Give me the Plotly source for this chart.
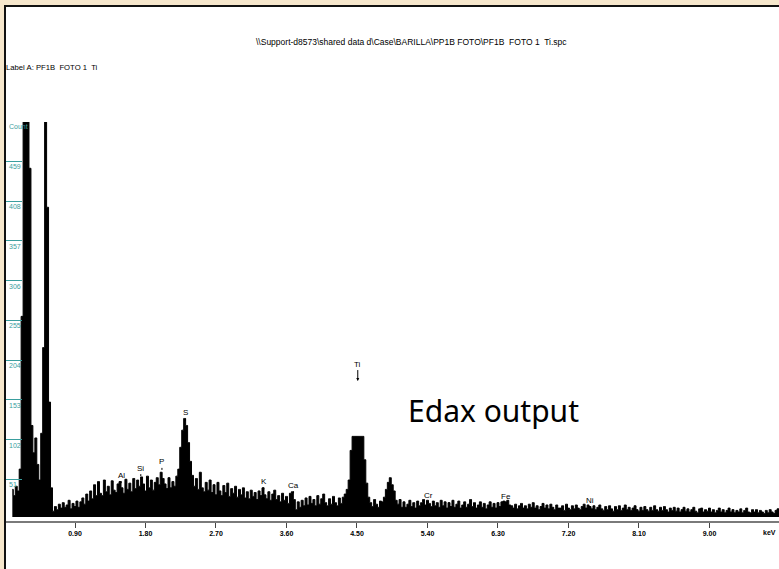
import plotly.graph_objects as go

# ---------------- data ----------------
kev_start = 0.10
kev_step = 0.025
counts = [
    # 0.100 - 0.575
    38, 30, 42, 36, 64, 260, 900, 1100, 900, 450, 120, 85, 104, 70, 50, 110, 220, 640, 400, 150,
    # 0.600 - 1.075
    40, 10, 16, 12, 19, 14, 21, 15, 18, 24, 13, 20, 16, 23, 15, 22, 27, 19, 32, 23,
    # 1.100 - 1.575
    36, 26, 44, 30, 48, 33, 30, 50, 35, 42, 31, 49, 37, 34, 45, 48, 40, 33, 51, 38,
    # 1.600 - 2.075
    46, 35, 52, 39, 50, 42, 54, 45, 36, 55, 40, 50, 37, 47, 53, 44, 60, 52, 45, 39,
    # 2.100 - 2.575
    53, 40, 48, 42, 55, 64, 92, 114, 129, 120, 98, 74, 56, 42, 52, 38, 60, 40, 35, 47,
    # 2.600 - 3.075
    37, 50, 34, 44, 31, 47, 36, 30, 43, 34, 46, 29, 39, 33, 42, 28, 38, 31, 40, 27,
    # 3.100 - 3.575
    35, 26, 37, 29, 34, 25, 36, 30, 40, 31, 26, 35, 24, 32, 37, 25, 30, 22, 33, 24,
    # 3.600 - 4.075
    29, 20, 33, 35, 25, 12, 22, 15, 24, 17, 27, 18, 29, 20, 25, 17, 30, 19, 26, 32,
    # 4.100 - 4.575
    21, 17, 26, 19, 29, 21, 17, 27, 20, 28, 32, 38, 50, 88, 106, 106, 106, 106, 106, 106,
    # 4.600 - 5.075
    76, 46, 28, 21, 16, 25, 19, 15, 23, 22, 28, 38, 47, 53, 44, 36, 24, 19, 25, 15,
    # 5.100 - 5.575
    22, 15, 19, 24, 16, 21, 14, 23, 17, 21, 25, 18, 24, 20, 16, 23, 17, 21, 15, 24,
    # 5.600 - 6.075
    17, 22, 14, 21, 16, 24, 15, 19, 23, 14, 18, 22, 15, 19, 25, 16, 21, 14, 18, 22,
    # 6.100 - 6.575
    15, 20, 13, 18, 22, 15, 20, 14, 21, 16, 22, 23, 22, 24, 18, 17, 14, 19, 13, 17,
    # 6.600 - 7.075
    20, 14, 17, 13, 19, 15, 21, 14, 17, 12, 16, 20, 14, 18, 13, 19, 15, 12, 18, 14,
    # 7.100 - 7.575
    14, 17, 11, 19, 14, 12, 17, 13, 18, 14, 12, 16, 19, 14, 18, 16, 13, 17, 12, 15,
    # 7.600 - 8.075
    18, 13, 11, 16, 12, 17, 13, 10, 16, 12, 17, 11, 14, 18, 12, 15, 11, 14, 17, 12,
    # 8.100 - 8.575
    10, 15, 11, 16, 12, 10, 15, 11, 17, 12, 10, 15, 11, 16, 12, 9, 14, 11, 15, 10,
    # 8.600 - 9.075
    14, 9, 12, 15, 10, 13, 9, 12, 15, 10, 8, 13, 14, 9, 12, 10, 14, 9, 12, 8,
    # 9.100 - 9.575
    11, 14, 9, 12, 8, 11, 14, 9, 12, 8, 11, 9, 13, 8, 11, 14, 9, 8, 12, 9,
    # 9.600 - 9.900
    12, 8, 11, 9, 7, 11, 8, 12, 9, 7, 11, 13, 8,
]
kev = [round(kev_start + kev_step * i, 4) for i in range(len(counts))]
baseline_counts = 2.5

x_tick_vals = [0.90, 1.80, 2.70, 3.60, 4.50, 5.40, 6.30, 7.20, 8.10, 9.00]
x_tick_text = ["0.90", "1.80", "2.70", "3.60", "4.50", "5.40", "6.30", "7.20", "8.10", "9.00"]
y_tick_vals = [51, 102, 153, 204, 255, 306, 357, 408, 459]
y_tick_text = ["51", "102", "153", "204", "255", "306", "357", "408", "459"]

elements = ["Al", "Si", "P", "S", "K", "Ca", "Ti", "Cr", "Fe", "Ni"]
element_kev = [1.49, 1.74, 2.01, 2.31, 3.31, 3.69, 4.51, 5.41, 6.40, 7.47]
element_label_counts = [56, 65, 73, 136, 48, 43, 201, 30, 28, 24]

title_text = "\\\\Support-d8573\\shared data d\\Case\\BARILLA\\PP1B FOTO\\PF1B  FOTO 1  Ti.spc"
label_text = "Label A: PF1B  FOTO 1  Ti"
overlay_text = "Edax output"

# ---------------- geometry helpers ----------------
W, H = 779, 569
PL, PR, PT, PB = 5, 779, 122, 521   # plot area in pixels


def pxx(px):
    return (px - PL) / (PR - PL)


def pxy(py):
    return (PB - py) / (PB - PT)


SANS = "Liberation Sans, Arial, sans-serif"
TEAL = "#3a9e9e"

fig = go.Figure()
fig.add_trace(go.Scatter(x=kev, y=[baseline_counts] * len(kev), mode="lines",
                         line=dict(width=0, color="black", shape="hvh"),
                         hoverinfo="skip", showlegend=False))
fig.add_trace(go.Scatter(x=kev, y=counts, mode="lines", fill="tonexty",
                         fillcolor="black",
                         line=dict(width=1, color="black", shape="hvh"),
                         showlegend=False))

shapes = [
    dict(type="rect", xref="paper", yref="paper", x0=pxx(4), x1=pxx(820),
         y0=pxy(5), y1=pxy(620), fillcolor="white", line=dict(width=0), layer="below"),
    dict(type="line", xref="paper", yref="paper", x0=pxx(5), x1=pxx(5),
         y0=pxy(5), y1=pxy(620), line=dict(color="#111111", width=2), layer="above"),
    dict(type="line", xref="paper", yref="paper", x0=pxx(4), x1=pxx(820),
         y0=pxy(6), y1=pxy(6), line=dict(color="#111111", width=2), layer="above"),
]

annotations = [
    dict(text=title_text, xref="paper", yref="paper", x=pxx(411), y=pxy(42),
         xanchor="center", yanchor="middle",
         showarrow=False, font=dict(family=SANS, size=8.5, color="black")),
    dict(text=label_text, xref="paper", yref="paper", x=pxx(4), y=pxy(68),
         xanchor="left", yanchor="middle",
         showarrow=False, font=dict(family=SANS, size=7.7, color="black")),
    dict(text=overlay_text, xref="paper", yref="paper", x=pxx(493), y=pxy(410),
         xanchor="center", yanchor="middle",
         showarrow=False, font=dict(family="Noto Sans, sans-serif", size=30, color="black")),
    dict(text="Count", xref="paper", yref="paper", x=pxx(7), y=pxy(121),
         xanchor="left", yanchor="top", showarrow=False,
         font=dict(family=SANS, size=7, color=TEAL)),
    dict(text="keV", xref="paper", yref="paper", x=pxx(769), y=pxy(532),
         xanchor="center", yanchor="middle",
         showarrow=False, font=dict(family=SANS, size=7, color="black", weight="bold")),
]
for v, t in zip(y_tick_vals, y_tick_text):
    annotations.append(dict(text=t, xref="paper", yref="y", x=pxx(7), y=v,
                            xanchor="left", yanchor="top", showarrow=False,
                            font=dict(family=SANS, size=7, color=TEAL)))
for name, k, c in zip(elements, element_kev, element_label_counts):
    is_ti = name == "Ti"
    annotations.append(dict(text=name, x=k, y=c - (24 if is_ti else 10), xref="x", yref="y",
                            showarrow=True, ax=0, ay=-(17 if is_ti else 8),
                            arrowhead=2 if is_ti else 0, arrowsize=0.6, arrowwidth=1,
                            arrowcolor="black", standoff=0,
                            font=dict(family=SANS, size=8, color="black")))

fig.update_layout(
    width=W, height=H,
    margin=dict(l=PL, r=W - PR, t=PT, b=H - PB, pad=0),
    paper_bgcolor="#f6e7cc",
    plot_bgcolor="rgba(0,0,0,0)",
    showlegend=False,
    shapes=shapes,
    annotations=annotations,
    xaxis=dict(range=[0.0064, 9.8876], showgrid=False, zeroline=False,
               showline=True, linecolor="#7a7a7a", linewidth=2,
               ticks="outside", ticklen=5, tickwidth=1, tickcolor="#444444",
               tickvals=x_tick_vals, ticktext=x_tick_text,
               tickfont=dict(family=SANS, size=7, color="black", weight="bold")),
    yaxis=dict(range=[-2.57, 509.4], showgrid=False, zeroline=False, showline=False,
               ticks="inside", ticklen=17, tickwidth=1, tickcolor=TEAL,
               tickvals=y_tick_vals, showticklabels=False),
)

fig.write_html("out.html")
